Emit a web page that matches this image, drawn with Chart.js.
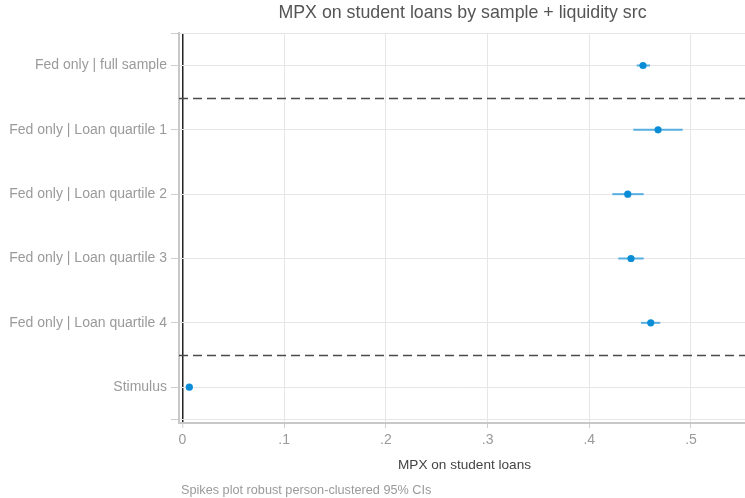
<!DOCTYPE html>
<html>
<head>
<meta charset="utf-8">
<script src="https://cdn.jsdelivr.net/npm/chart.js@4.4.1/dist/chart.umd.min.js"></script>
<style>
  html, body { margin: 0; padding: 0; background: #ffffff; }
  #wrap { width: 745px; height: 498px; }
</style>
</head>
<body>
<div id="wrap"><canvas id="c" width="745" height="498"></canvas></div>
<script>
// Coefficient plot: MPX on student loans, one row per sample / liquidity source
const rowLabels = [
  'Fed only | full sample',
  'Fed only | Loan quartile 1',
  'Fed only | Loan quartile 2',
  'Fed only | Loan quartile 3',
  'Fed only | Loan quartile 4',
  'Stimulus'
];
const rowPos = [1, 2, 3, 4, 5, 6];
const estimates = [0.4528, 0.4676, 0.4378, 0.4410, 0.4604, 0.0067];
const ciLow     = [0.4466, 0.4433, 0.4226, 0.4285, 0.4508, 0.0055];
const ciHigh    = [0.4597, 0.4918, 0.4535, 0.4535, 0.4698, 0.0079];
const xTickValues = [0, 0.1, 0.2, 0.3, 0.4, 0.5];
const xTickLabels = ['0', '.1', '.2', '.3', '.4', '.5'];
const dividerPositions = [1.5, 5.5];

const titleText = 'MPX on student loans by sample + liquidity src';
const xTitleText = 'MPX on student loans';
const noteText = 'Spikes plot robust person-clustered 95% CIs';

const FONT = "'Liberation Sans', Arial, Helvetica, sans-serif";
const pointColor = '#0a8dd6';
const spikeColor = '#58aee0';

const ciDatasets = rowPos.map((y, i) => ({
  type: 'scatter',
  showLine: true,
  data: [{ x: ciLow[i], y: y }, { x: ciHigh[i], y: y }],
  borderColor: spikeColor,
  borderWidth: 2,
  pointRadius: 0,
  order: 2
}));

const pointDataset = {
  type: 'scatter',
  data: rowPos.map((y, i) => ({ x: estimates[i], y: y })),
  backgroundColor: pointColor,
  borderWidth: 0,
  pointRadius: 3.6,
  order: 1
};

// Dashed group dividers plus title, axis title and note
const annotate = {
  id: 'annotate',
  beforeDatasetsDraw(chart) {
    const { ctx, chartArea, scales } = chart;
    ctx.save();
    ctx.strokeStyle = '#4a4a4a';
    ctx.lineWidth = 1.3;
    ctx.setLineDash([9, 5]);
    dividerPositions.forEach(v => {
      const py = Math.round(scales.y.getPixelForValue(v)) + 0.5;
      ctx.beginPath();
      ctx.moveTo(chartArea.left, py);
      ctx.lineTo(chartArea.right, py);
      ctx.stroke();
    });
    ctx.restore();
  },
  afterDraw(chart) {
    const { ctx, chartArea } = chart;
    const mid = (chartArea.left + chartArea.right) / 2;
    ctx.save();
    ctx.textBaseline = 'middle';
    ctx.textAlign = 'center';
    ctx.fillStyle = '#555555';
    ctx.font = '17.8px ' + FONT;
    ctx.fillText(titleText, mid + 0.5, 13);
    ctx.fillStyle = '#444444';
    ctx.font = '13.6px ' + FONT;
    ctx.fillText(xTitleText, mid + 2.5, 465);
    ctx.textAlign = 'left';
    ctx.fillStyle = '#9a9a9a';
    ctx.font = '12.7px ' + FONT;
    ctx.fillText(noteText, chartArea.left + 2, 490);
    ctx.restore();
  }
};

new Chart(document.getElementById('c'), {
  type: 'scatter',
  data: { datasets: [...ciDatasets, pointDataset] },
  options: {
    responsive: false,
    animation: false,
    devicePixelRatio: 1,
    layout: { autoPadding: false, padding: { top: 33, right: 0, bottom: 0, left: 0 } },
    plugins: { legend: { display: false }, tooltip: { enabled: false } },
    scales: {
      x: {
        type: 'linear',
        min: -0.00344,
        max: 0.5531,
        afterBuildTicks: s => { s.ticks = xTickValues.map(v => ({ value: v })); },
        afterFit: s => { s.height = 75; s.paddingLeft = 0; s.paddingRight = 0; },
        ticks: {
          autoSkip: false,
          maxRotation: 0,
          padding: 4,
          color: '#9a9a9a',
          font: { family: FONT, size: 14 },
          callback: (v) => {
            const k = xTickValues.findIndex(t => Math.abs(t - v) < 1e-9);
            return k >= 0 ? xTickLabels[k] : '';
          }
        },
        grid: {
          color: c => (c.tick && c.tick.value === 0) ? '#222222' : '#e6e6e6',
          lineWidth: c => (c.tick && c.tick.value === 0) ? 1.5 : 1,
          tickColor: '#cfcfcf',
          tickWidth: 1,
          tickLength: 5
        },
        border: { color: '#c8c8c8', width: 2 }
      },
      y: {
        type: 'linear',
        reverse: true,
        min: 0.495,
        max: 6.557,
        afterBuildTicks: s => { s.ticks = [0.5, ...rowPos, 6.5].map(v => ({ value: v })); },
        afterFit: s => { s.width = 179; },
        ticks: {
          autoSkip: false,
          padding: 4,
          color: '#9a9a9a',
          font: { family: FONT, size: 14 },
          callback: (v) => {
            const k = rowPos.indexOf(v);
            return k >= 0 ? rowLabels[k] : '';
          }
        },
        grid: {
          color: '#e6e6e6',
          tickColor: '#cfcfcf',
          tickLength: 8
        },
        border: { color: '#c8c8c8', width: 2 }
      }
    }
  },
  plugins: [annotate]
});
</script>
</body>
</html>
